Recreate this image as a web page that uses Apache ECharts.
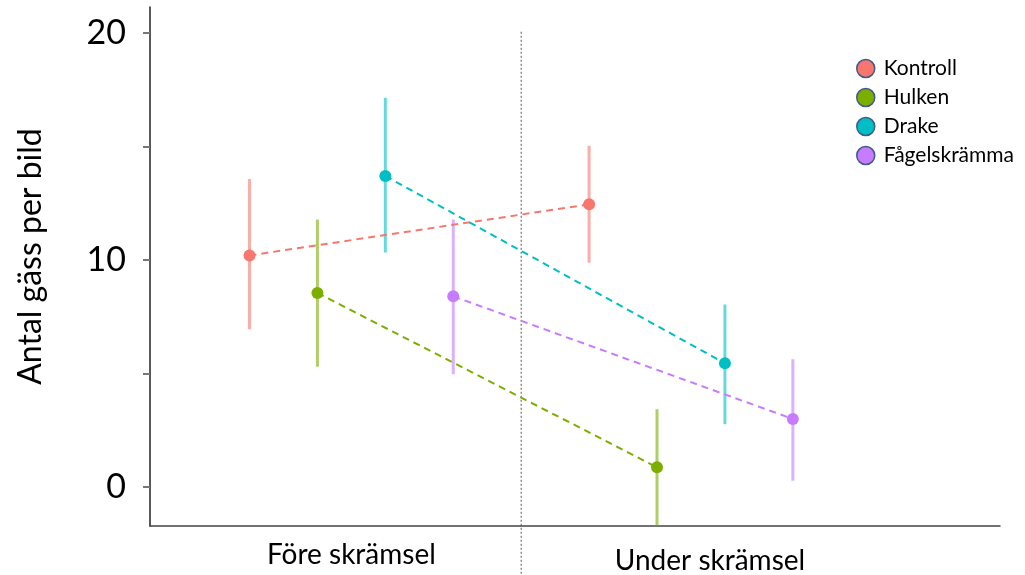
<!DOCTYPE html>
<html>
<head>
<meta charset="utf-8">
<script src="https://cdn.jsdelivr.net/npm/echarts@6/dist/echarts.min.js"></script>
<style>
  html, body { margin: 0; padding: 0; background: #fff; }
  #main { width: 1025px; height: 575px; }
</style>
</head>
<body>
<div id="main"></div>
<script>
// grupper och perioder
var groups = ["Kontroll", "Hulken", "Drake", "Fågelskrämma"];
var periods = ["Före skrämsel", "Under skrämsel"];
var colors = ["#F8766D", "#7CAE00", "#00BFC4", "#C77CFF"];

// medelvärden per grupp: [före, under]
var meanBefore = [10.2, 8.55, 13.7, 8.4];
var meanAfter = [12.45, 0.87, 5.45, 3.0];
// felstaplar
var lowBefore = [6.95, 5.3, 10.33, 4.97];
var lowAfter = [9.88, -2.0, 2.77, 0.28];
var highBefore = [13.57, 11.78, 17.14, 11.78];
var highAfter = [15.03, 3.43, 8.04, 5.63];

var yLabels = [0, 10, 20];
var yTicks = [0, 5, 10, 15, 20];

// sidoförskjutning per grupp inom varje period
var dodge = [-0.3, -0.1, 0.1, 0.3];
var font = "Lato";

var myChart = echarts.init(document.getElementById("main"));
var series = [];

// skiljelinje mellan perioderna
series.push({
  type: "line",
  data: [[1.5, 20.05], [1.5, -4]],
  symbol: "none",
  clip: false,
  silent: true,
  lineStyle: { color: "#555", width: 1, type: [2, 2] },
  z: 1,
});

for (var i = 0; i < groups.length; i++) {
  var bars = [
    [1 + dodge[i], lowBefore[i], highBefore[i]],
    [2 + dodge[i], lowAfter[i], highAfter[i]],
  ];
  // felstaplar
  series.push({
    name: groups[i],
    type: "custom",
    data: bars,
    clip: true,
    silent: true,
    z: 2,
    renderItem: (function (c) {
      return function (params, api) {
        var p1 = api.coord([api.value(0), api.value(1)]);
        var p2 = api.coord([api.value(0), api.value(2)]);
        return {
          type: "line",
          shape: { x1: p1[0], y1: p1[1], x2: p2[0], y2: p2[1] },
          style: { stroke: c, lineWidth: 3, opacity: 0.6 },
        };
      };
    })(colors[i]),
  });
  // medelvärden med streckad linje
  series.push({
    name: groups[i],
    type: "line",
    data: [
      [1 + dodge[i], meanBefore[i]],
      [2 + dodge[i], meanAfter[i]],
    ],
    symbol: "circle",
    symbolSize: 12,
    itemStyle: { color: colors[i] },
    lineStyle: { color: colors[i], width: 2, type: [7, 5] },
    z: 3,
  });
}

var option = {
  animation: false,
  grid: { left: 150, right: 25, top: 7, bottom: 48 },
  legend: {
    orient: "vertical",
    left: 851,
    top: 53,
    itemWidth: 18,
    itemHeight: 18,
    itemGap: 8,
    icon: "circle",
    data: groups.map(function (g, i) {
      return {
        name: g,
        itemStyle: { color: colors[i], borderColor: "#3f5a8c", borderWidth: 1.5 },
      };
    }),
    textStyle: { fontFamily: font, fontSize: 21, color: "#000", padding: [0, 0, 0, 4] },
  },
  xAxis: {
    type: "value",
    min: 0.407,
    max: 2.91,
    splitLine: { show: false },
    axisTick: { show: false },
    axisLine: { onZero: false, lineStyle: { color: "#444", width: 1.5 } },
    axisLabel: {
      customValues: [1, 2],
      margin: 15,
      formatter: function (v) {
        return v === 1 ? "{a|" + periods[0] + "}" : "{b|" + periods[1] + "}";
      },
      rich: {
        a: { fontFamily: font, fontSize: 28, color: "#000" },
        b: { fontFamily: font, fontSize: 28, color: "#000", padding: [6, 0, 0, 38] },
      },
    },
  },
  yAxis: {
    type: "value",
    min: -1.714,
    max: 21.14,
    name: "Antal gäss per bild",
    nameLocation: "middle",
    nameGap: 103,
    nameTextStyle: { fontFamily: font, fontSize: 32, color: "#000", padding: [0, 0, 0, 20] },
    splitLine: { show: false },
    axisLine: { show: true, lineStyle: { color: "#222", width: 1.5 } },
    axisTick: {
      show: true,
      length: 7,
      customValues: yTicks,
      lineStyle: { color: "#777", width: 2 },
    },
    axisLabel: {
      customValues: yLabels,
      margin: 24,
      fontFamily: font,
      fontSize: 34,
      color: "#000",
    },
  },
  series: series,
};

option && myChart.setOption(option);
</script>
</body>
</html>
